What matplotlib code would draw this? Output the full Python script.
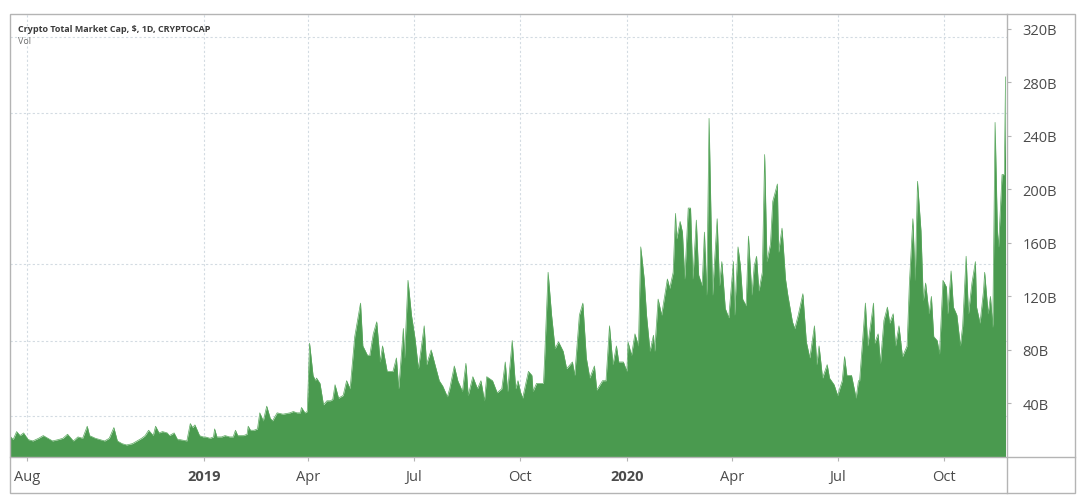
import numpy as np
import pandas as pd
import matplotlib
matplotlib.use("Agg")
import matplotlib.pyplot as plt
from matplotlib.patches import Rectangle
from matplotlib.lines import Line2D

# days after 2018-08-01 and daily volume (billions of $)
start = pd.Timestamp("2018-08-01")
day = [
    -15, -12, -9, -6, -3, 1, 5, 10, 14, 18, 22, 27, 31, 35, 40, 44, 48, 52, 54, 59,
    63, 67, 71, 75, 78, 82, 86, 91, 95, 99, 102, 105, 109, 111, 114, 117, 121, 123, 127, 130,
    132, 138, 141, 143, 145, 149, 152, 154, 158, 161, 162, 164, 168, 171, 175, 178, 180, 182, 187, 190,
    191, 193, 196, 199, 201, 204, 207, 210, 212, 216, 221, 227, 230, 233, 236, 237, 240, 242, 244, 247,
    249, 250, 253, 256, 259, 262, 264, 266, 269, 273, 276,
    279, 283, 288, 290, 294, 296, 299, 302, 305, 307, 311, 313, 316, 319, 321, 325, 326, 329, 332, 335,
    338, 343, 345, 349, 352, 356, 359, 363, 365, 369, 372, 376, 379, 381, 385, 389, 392, 395, 397, 402,
    406, 410, 413, 415, 419, 422, 424,
    426, 428, 433, 436, 437, 440, 446, 447, 450, 453, 456, 459, 463, 466, 471, 473, 477, 480, 483, 486,
    490, 492, 497, 500, 503, 506, 509, 511, 515, 518, 519, 522, 525, 528, 530, 533, 535, 538, 541, 542,
    545, 548, 553, 555, 558, 560, 561, 564, 566, 568, 571,
    573, 575, 578, 580, 583, 585, 587, 589, 592, 593, 596, 598, 600, 603, 606, 610, 611, 614, 616, 618,
    621, 623, 626, 628, 630, 632, 635, 637, 639, 642, 644, 648, 649, 652, 655, 657, 661, 663, 666, 670,
    673, 676, 680, 682, 684, 687, 691, 693, 697, 700, 704, 706, 708, 712, 716, 718,
    719, 724, 726, 731, 732, 735, 737, 740, 743, 745, 748, 750, 753, 756, 760, 762, 765, 767, 769, 772,
    774, 776, 779, 781, 783, 786, 788, 791, 794, 795, 798, 800, 803, 806, 808, 811, 813, 816, 819, 820,
    823, 826, 827, 830, 832, 834, 836, 838, 839, 842, 844, 845,
]
vol = [
    16, 13, 19, 16, 18, 13, 12, 14, 16, 14, 12, 13, 14, 17, 12, 15, 14, 23, 16, 14,
    13, 12, 14, 22, 12, 10, 9, 10, 12, 14, 16, 20, 16, 23, 18, 19, 18, 16, 18, 13,
    13, 12, 25, 22, 24, 16, 15, 15, 14, 15, 21, 15, 15, 16, 15, 15, 20, 16, 16, 17,
    23, 20, 20, 21, 33, 27, 38, 29, 27, 33, 32, 33, 34, 33, 33, 37, 33, 34, 85, 61,
    57, 59, 55, 39, 42, 42, 43, 54, 44, 46, 57,
    51, 90, 115, 83, 76, 76, 92, 101, 71, 83, 64, 64, 64, 74, 51, 96, 74, 132, 106, 89,
    66, 98, 69, 80, 70, 57, 53, 45, 51, 68, 57, 49, 70, 46, 60, 51, 57, 42, 60, 57,
    48, 51, 71, 49, 87, 51, 57,
    49, 44, 64, 61, 49, 55, 55, 74, 138, 106, 81, 86, 79, 66, 71, 61, 106, 115, 74, 59,
    68, 50, 57, 57, 98, 69, 83, 71, 71, 64, 86, 76, 92, 83, 157, 133, 106, 79, 91, 79,
    118, 106, 133, 126, 138, 182, 163, 176, 168, 133, 186,
    186, 133, 177, 136, 128, 168, 121, 253, 121, 136, 178, 128, 146, 111, 104, 146, 106, 157, 143, 118,
    113, 165, 121, 143, 150, 124, 138, 226, 146, 159, 191, 204, 153, 171, 133, 121, 101, 96, 106, 122,
    86, 74, 98, 69, 83, 59, 69, 59, 54, 46, 57, 75, 61, 61, 44, 57,
    57, 115, 83, 115, 85, 92, 70, 102, 112, 100, 107, 83, 98, 75, 83, 130, 178, 132, 206, 169,
    117, 130, 107, 120, 90, 87, 77, 132, 127, 107, 139, 112, 106, 83, 98, 150, 107, 130, 146, 112,
    100, 124, 138, 107, 120, 97, 250, 169, 157, 211, 211, 284,
]

tick_dates = ["2018-08-01", "2019-01-01", "2019-04-01", "2019-07-01", "2019-10-01",
              "2020-01-01", "2020-04-01", "2020-07-01", "2020-10-01"]
tick_labels = ["Aug", "2019", "Apr", "Jul", "Oct", "2020", "Apr", "Jul", "Oct"]
price_ticks = [40, 80, 120, 160, 200, 240, 280, 320]
hgrid = [31, 87, 144, 200, 257, 314]

title = "Crypto Total Market Cap, $, 1D, CRYPTOCAP"
subtitle = "Vol"

dates = start + pd.to_timedelta(day, unit="D")
green = "#4a9a4f"
grid_c = "#d3dbe2"
frame_c = "#b4b4b4"
text_c = "#4b4b4b"

W, H = 1080, 502
fig = plt.figure(figsize=(W / 100, H / 100), dpi=100)
ax = fig.add_axes([10 / W, (H - 458) / H, (1007 - 10) / W, (458 - 15) / H])

ax.fill_between(dates, 0, vol, color=green, linewidth=0, zorder=3)
ax.plot(dates, vol, color="#5aa85e", linewidth=0.5, zorder=3)

ax.set_xlim(start + pd.Timedelta(days=-14.7), start + pd.Timedelta(days=846.3))
ax.set_ylim(0, 331)

ax.yaxis.tick_right()
ax.set_yticks(price_ticks)
ax.set_yticklabels([f"{v}B" for v in price_ticks])
ax.set_yticks(hgrid, minor=True)
ax.set_xticks(pd.to_datetime(tick_dates))
ax.set_xticklabels(tick_labels)
for lbl, txt in zip(ax.get_xticklabels(), tick_labels):
    if txt.isdigit():
        lbl.set_fontweight("bold")

ax.tick_params(axis="y", which="major", length=3, color=frame_c, labelsize=10.5,
               labelcolor=text_c, pad=8)
ax.tick_params(axis="y", which="minor", length=0)
ax.tick_params(axis="x", length=3, color=frame_c, labelsize=10.5, labelcolor=text_c, pad=6)
for lbl in ax.get_yticklabels() + ax.get_xticklabels():
    lbl.set_fontfamily("Open Sans")

ax.grid(axis="x", which="major", color=grid_c, linestyle=(0, (2, 2)), linewidth=0.8, zorder=1)
ax.grid(axis="y", which="minor", color=grid_c, linestyle=(0, (2, 2)), linewidth=0.8, zorder=1)
ax.grid(axis="y", which="major", visible=False)

for s in ax.spines.values():
    s.set_visible(False)

# outer frame and the price/time scale separators
fig.patches.append(Rectangle((10 / W, (H - 494) / H), (1075 - 10) / W, (494 - 15) / H,
                             transform=fig.transFigure, fill=False, edgecolor=frame_c, linewidth=1))
fig.lines.append(Line2D([1007 / W, 1007 / W], [(H - 494) / H, (H - 15) / H],
                        transform=fig.transFigure, color=frame_c, linewidth=1))
fig.lines.append(Line2D([10 / W, 1075 / W], [(H - 458) / H, (H - 458) / H],
                        transform=fig.transFigure, color=frame_c, linewidth=1))

ax.text(8 / 997, (458 - 30) / 443, title, transform=ax.transAxes, fontsize=6.5,
        fontweight="bold", color="#3c3c3c", family="Open Sans", va="center", ha="left", zorder=5)
ax.text(8 / 997, (458 - 42) / 443, subtitle, transform=ax.transAxes, fontsize=6.5,
        color="#6e6e6e", family="Open Sans", va="center", ha="left", zorder=5)

fig.savefig("out.png", dpi=100, facecolor="white")
